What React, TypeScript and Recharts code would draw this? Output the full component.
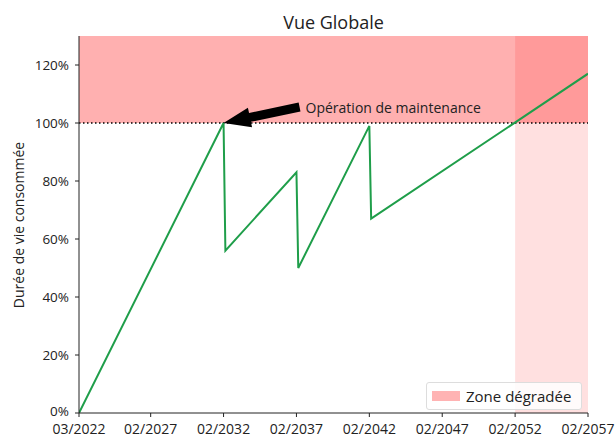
import { LineChart, Line, XAxis, YAxis, ReferenceArea, ReferenceLine, ReferenceDot } from "recharts";

// months counted from 03/2022
const MONTHS = [0, 119, 120.5, 179, 180.5, 239, 240.5, 419];
const USAGE = [0, 1.0, 0.56, 0.83, 0.5, 0.99, 0.67, 1.17];
const X_TICKS = [0, 59, 119, 179, 239, 299, 359, 419];
const X_LABELS = ["03/2022", "02/2027", "02/2032", "02/2037", "02/2042", "02/2047", "02/2052", "02/2057"];
const Y_TICKS = [0, 0.2, 0.4, 0.6, 0.8, 1.0, 1.2];
const DEGRADED_FROM = 359;
const MAINTENANCE_AT = 119;

const data = MONTHS.map((m, i) => ({ m, usage: USAGE[i] }));

const FONT = "'Open Sans', 'DejaVu Sans', sans-serif";

function XTick(props: any) {
  const { x, y, payload } = props;
  return (
    <text x={x} y={y + 15} textAnchor="middle" fontSize={14} fontFamily={FONT} fill="#222">
      {X_LABELS[X_TICKS.indexOf(payload.value)] ?? ""}
    </text>
  );
}

function YTick(props: any) {
  const { x, y, payload } = props;
  // lift the 0% label a touch so it clears the first date label
  const lift = payload.value === 0 ? 2 : 0;
  return (
    <text x={x} y={y - lift} dy={5} textAnchor="end" fontSize={13.5} fontFamily={FONT} fill="#222">
      {`${Math.round(payload.value * 100)}%`}
    </text>
  );
}

function ArrowNote(props: any) {
  const { cx, cy } = props;
  if (cx == null || cy == null) return null;
  // arrow pointing from the label back to the maintenance point
  const tx = cx + 76;
  const ty = cy - 16;
  const dx = tx - cx;
  const dy = ty - cy;
  const len = Math.sqrt(dx * dx + dy * dy);
  const ux = dx / len;
  const uy = dy / len;
  const px = -uy;
  const py = ux;
  const head = 27;
  const hw = 10;
  const sw = 4.5;
  const bx = cx + ux * head;
  const by = cy + uy * head;
  const pts = [
    [cx, cy],
    [bx + px * hw, by + py * hw],
    [bx + px * sw, by + py * sw],
    [tx + px * sw, ty + py * sw],
    [tx - px * sw, ty - py * sw],
    [bx - px * sw, by - py * sw],
    [bx - px * hw, by - py * hw],
  ];
  return (
    <g>
      <polygon points={pts.map((p) => p.join(",")).join(" ")} fill="#000" />
      <text x={tx + 6} y={cy - 10} fontSize={14} fontFamily={FONT} fill="#222">
        Opération de maintenance
      </text>
    </g>
  );
}

export default function App() {
  return (
    <div style={{ position: "absolute", left: 0, top: 0, width: 616, height: 438, background: "#fff" }}>
      <div
        style={{
          position: "absolute",
          left: 0,
          width: 667,
          top: 10,
          textAlign: "center",
          fontFamily: FONT,
          fontSize: 18,
          color: "#222",
        }}
      >
        Vue Globale
      </div>
      <div
        style={{
          position: "absolute",
          left: 18,
          top: 225,
          transform: "translate(-50%, -50%) rotate(-90deg)",
          whiteSpace: "nowrap",
          fontFamily: FONT,
          fontSize: 14,
          color: "#222",
        }}
      >
        Durée de vie consommée
      </div>
      <LineChart width={616} height={438} data={data} margin={{ top: 36, right: 28, left: 19, bottom: 0 }}>
        <ReferenceArea y1={1} y2={1.3} x1={0} x2={419} fill="#ff0000" fillOpacity={0.31} stroke="none" />
        <ReferenceArea x1={DEGRADED_FROM} x2={419} y1={0} y2={1.3} fill="#ff0000" fillOpacity={0.12} stroke="none" />
        <XAxis
          dataKey="m"
          type="number"
          domain={[0, 419]}
          ticks={X_TICKS}
          tick={<XTick />}
          stroke="#222"
          tickSize={4}
          height={25}
          interval={0}
          allowDataOverflow
        />
        <XAxis xAxisId="top" orientation="top" dataKey="m" type="number" domain={[0, 419]} tick={false} tickLine={false} height={0} stroke="#222" />
        <YAxis
          type="number"
          domain={[0, 1.3]}
          ticks={Y_TICKS}
          tick={<YTick />}
          stroke="#222"
          tickSize={4}
          tickMargin={6}
          width={60}
          interval={0}
          allowDataOverflow
        />
        <YAxis yAxisId="right" orientation="right" domain={[0, 1.3]} tick={false} tickLine={false} width={0} stroke="#222" />
        <ReferenceLine y={1} stroke="#000" strokeWidth={1.5} strokeDasharray="1.5 2.5" />
        <Line dataKey="usage" stroke="#1f9e4a" strokeWidth={2} dot={false} isAnimationActive={false} />
        <ReferenceDot x={MAINTENANCE_AT} y={1} r={0} shape={ArrowNote} />
      </LineChart>
      <div
        style={{
          position: "absolute",
          left: 426,
          top: 382,
          width: 156,
          height: 28,
          boxSizing: "border-box",
          border: "1px solid #ddd",
          borderRadius: 3,
          background: "rgba(255,255,255,0.85)",
          display: "flex",
          alignItems: "center",
          fontFamily: FONT,
          fontSize: 15,
          color: "#222",
        }}
      >
        <span style={{ display: "inline-block", width: 28, height: 10, background: "#ffb3b3", marginLeft: 5, marginRight: 6 }} />
        Zone dégradée
      </div>
    </div>
  );
}
